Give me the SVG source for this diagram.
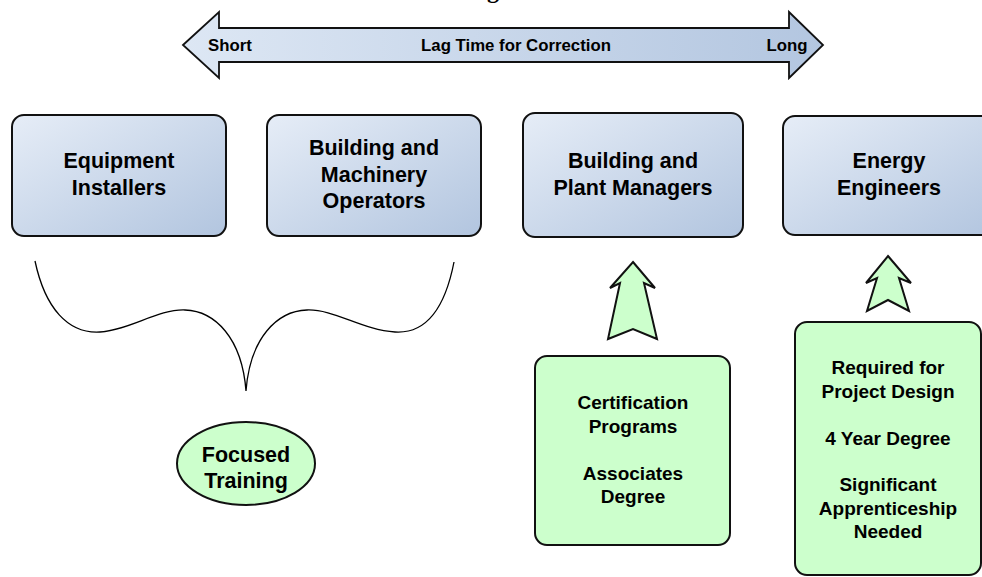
<svg xmlns="http://www.w3.org/2000/svg" width="982" height="577" viewBox="0 0 982 577">
<style>
text{font-family:"Liberation Sans",Arial,sans-serif;font-weight:bold;fill:#000;text-anchor:middle}
.box{fill:url(#blueGrad);stroke:#111;stroke-width:2}
.green{fill:#ccffcc;stroke:#111;stroke-width:2}
.t21{font-size:21.5px}
.t19{font-size:19px}
.t16{font-size:16.8px}
.conn{fill:none;stroke:#000;stroke-width:1.3}
</style>
<defs>
<linearGradient id="blueGrad" x1="0" y1="0" x2="1" y2="1">
<stop offset="0" stop-color="#e6edf7"/>
<stop offset="1" stop-color="#b2c5df"/>
</linearGradient>
<linearGradient id="barGrad" x1="0" y1="0" x2="1" y2="0">
<stop offset="0" stop-color="#dde7f4"/>
<stop offset="1" stop-color="#b3c6e0"/>
</linearGradient>
</defs>

<text x="487" y="-2" style="font-family:'Liberation Serif','Times New Roman',serif;font-size:24px;text-anchor:start">g</text>

<g id="lag-arrow">
<path d="M183,45 L219,12 L219,28 L789,28 L789,12 L823,45 L789,78 L789,62 L219,62 L219,78 Z" fill="url(#barGrad)" stroke="#111" stroke-width="1.8" stroke-linejoin="miter"/>
<text class="t16" x="230" y="51">Short</text>
<text class="t16" x="516" y="51">Lag Time for Correction</text>
<text class="t16" x="787" y="51">Long</text>
</g>

<g id="equipment-installers">
<rect class="box" x="12" y="115" width="214" height="121" rx="12"/>
<text class="t21" x="119" y="168">Equipment</text>
<text class="t21" x="119" y="195">Installers</text>
</g>

<g id="building-machinery-operators">
<rect class="box" x="267" y="115" width="214" height="121" rx="12"/>
<text class="t21" x="374" y="155">Building and</text>
<text class="t21" x="374" y="182">Machinery</text>
<text class="t21" x="374" y="208">Operators</text>
</g>

<g id="building-plant-managers">
<rect class="box" x="523" y="113" width="220" height="124" rx="12"/>
<text class="t21" x="633" y="168">Building and</text>
<text class="t21" x="633" y="195">Plant Managers</text>
</g>

<g id="energy-engineers">
<rect class="box" x="783" y="116" width="214" height="119" rx="12"/>
<text class="t21" x="889" y="168">Energy</text>
<text class="t21" x="889" y="195">Engineers</text>
</g>

<g id="connectors">
<path class="conn" d="M35,261 C45,308 68,334 100,332 C130,330 158,309 185,310 C215,311 242,338 246,391 C250,338 277,311 307,310 C334,309 362,330 395,332 C427,334 445,308 454,262"/>
<path class="green" d="M633,262 L655,288 L644,283 L657,339 L633,329 L608,339 L620,283 L610,288 Z" stroke-linejoin="miter"/>
<path class="green" d="M888,256 L911,283 L899,278 L909,311 L888,300 L867,311 L877,278 L866,283 Z" stroke-linejoin="miter"/>
</g>

<g id="focused-training">
<ellipse class="green" cx="246" cy="463.5" rx="69" ry="41.5"/>
<text class="t21" x="246" y="462">Focused</text>
<text class="t21" x="246" y="488">Training</text>
</g>

<g id="certification-programs">
<rect class="green" x="535" y="356" width="195" height="189" rx="12"/>
<text class="t19" x="633" y="409">Certification</text>
<text class="t19" x="633" y="433">Programs</text>
<text class="t19" x="633" y="480">Associates</text>
<text class="t19" x="633" y="503">Degree</text>
</g>

<g id="project-design">
<rect class="green" x="795" y="322" width="186" height="253" rx="12"/>
<text class="t19" x="888" y="374">Required for</text>
<text class="t19" x="888" y="398">Project Design</text>
<text class="t19" x="888" y="445">4 Year Degree</text>
<text class="t19" x="888" y="491">Significant</text>
<text class="t19" x="888" y="515">Apprenticeship</text>
<text class="t19" x="888" y="538">Needed</text>
</g>
</svg>
